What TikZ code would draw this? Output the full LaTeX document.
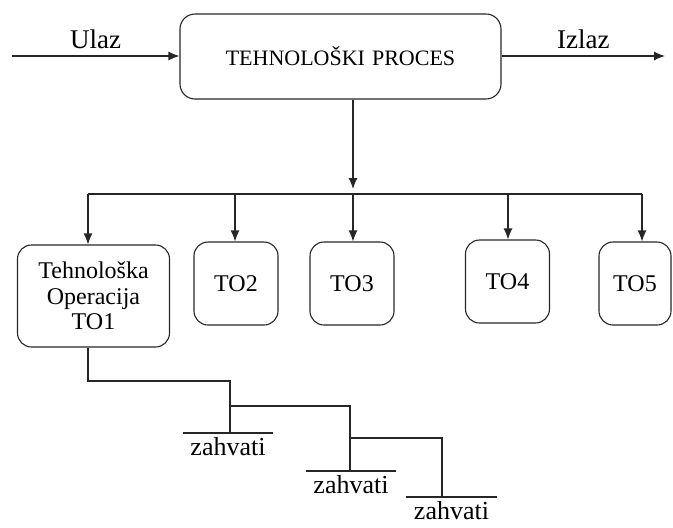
\documentclass[tikz,border=0pt]{standalone}
\usepackage{fontspec}
\setmainfont{Liberation Serif}
\usetikzlibrary{arrows.meta}

\tikzset{
  line/.style={line width=1.1pt, draw=black!85},
  procbox/.style={line, rounded corners=15pt, minimum width=321pt, minimum height=85pt,
    font=\fontsize{22}{24}\selectfont},
  opbox/.style={line, rounded corners=14pt, minimum width=84pt, minimum height=83pt,
    align=center, font=\fontsize{24}{25.5}\selectfont},
  lbl/.style={font=\fontsize{27}{29}\selectfont},
  zahvat/.style={anchor=north, minimum width=90pt, inner xsep=0pt, inner ysep=4pt,
    font=\fontsize{26}{28}\selectfont}
}

\begin{document}
\begin{tikzpicture}[x=1pt, y=-1pt, >={Latex[length=11pt,width=9pt]}]
\useasboundingbox (0,0) rectangle (673,528);

% process and operations
\node[procbox] (proces) at (340.5,56.5) {TEHNOLOŠKI\hspace{7pt}PROCES};
\node[opbox, minimum width=152pt, minimum height=102pt] (to1) at (93.5,296) {Tehnološka\\Operacija\\TO1};
\node[opbox] (to2) at (236,283.5) {TO2};
\node[opbox] (to3) at (352,283.5) {TO3};
\node[opbox] (to4) at (507.5,281.5) {TO4};
\node[opbox, minimum width=72pt] (to5) at (635,283.5) {TO5};

% input / output
\coordinate (ulaz) at (12,56);
\coordinate (izlaz) at (665,56);
\draw[line, ->] (ulaz) -- (proces.west |- ulaz) node[lbl, midway, above=3pt] {Ulaz};
\draw[line, ->] (proces.east |- izlaz) -- (izlaz) node[lbl, midway, above=3pt] {Izlaz};

% distribution bus
\coordinate (bus) at (353,194);
\draw[line, ->] (proces.south -| bus) -- ([yshift=5pt]bus);
\draw[line] ([xshift=-5.5pt]to1.north |- bus) -- ([xshift=7pt]to5.north |- bus);
\foreach \n/\dx in {to1/-5.5, to2/-1, to3/1, to4/0.5, to5/7}
  \draw[line, ->] ([xshift=\dx pt]\n.north |- bus) -- ([xshift=\dx pt]\n.north);

% zahvati
\node[zahvat] (z1) at (228,433) {zahvati};
\node[zahvat] (z2) at (351,471) {zahvati};
\node[zahvat] (z3) at (451.5,497) {zahvati};
\foreach \z in {z1, z2, z3}
  \draw[line] (\z.north west) -- (\z.north east);

\coordinate (k1) at (230,381);
\coordinate (k2) at (350,406);
\coordinate (k3) at (442,438);
\draw[line] ([xshift=-5.5pt]to1.south) |- (k1) -- (k1 |- z1.north);
\draw[line] (k1 |- k2) -- (k2) -- (k2 |- z2.north);
\draw[line] (k2 |- k3) -- (k3) -- (k3 |- z3.north);
\end{tikzpicture}
\end{document}
